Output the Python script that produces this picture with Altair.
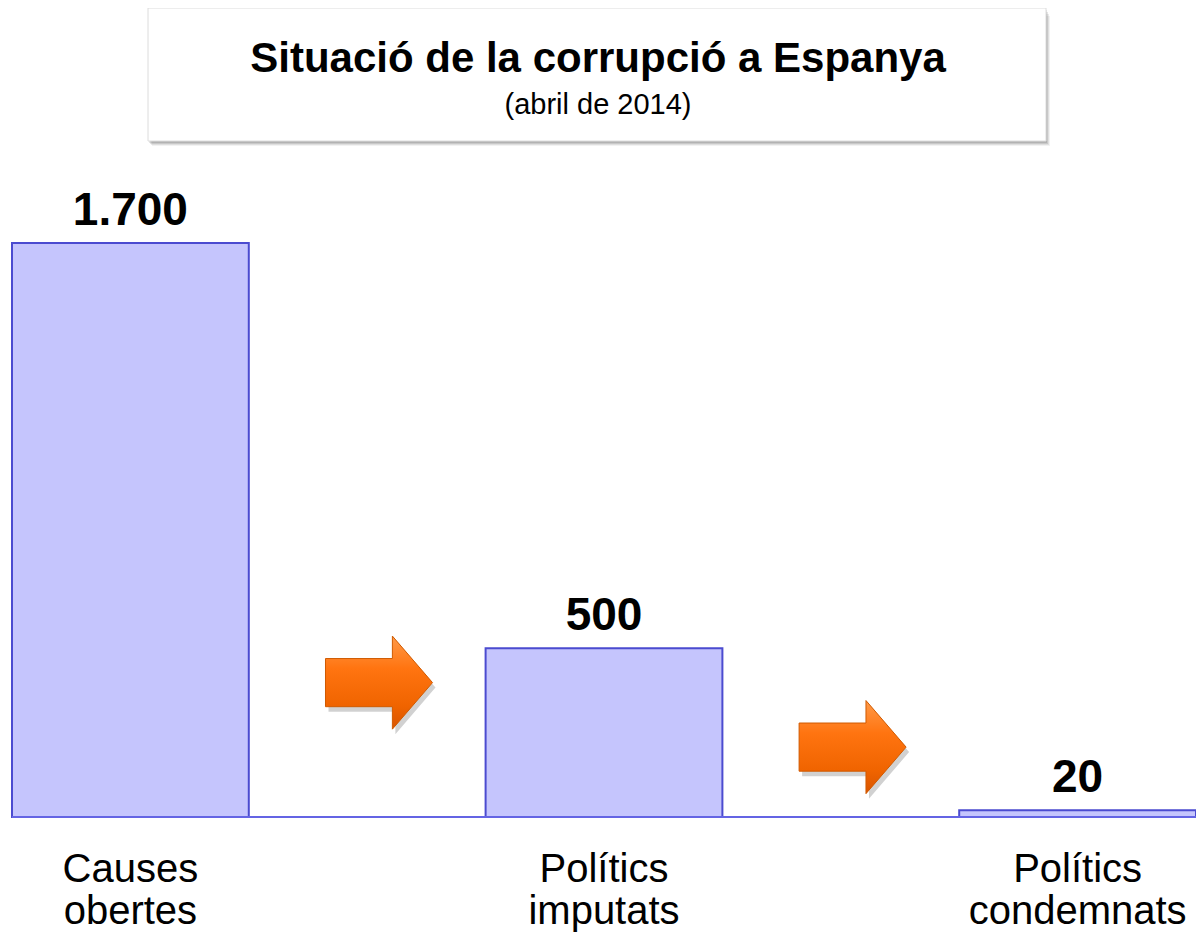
import altair as alt
import pandas as pd

# ---- data ----
categories = ["Causes obertes", "Polítics imputats", "Polítics condemnats"]
category_labels = ["Causes\nobertes", "Polítics\nimputats", "Polítics\ncondemnats"]
values = [1700, 500, 20]
value_labels = ["1.700", "500", "20"]

arrow_before = ["Polítics imputats", "Polítics condemnats"]
arrow_levels = [398, 207]

title_text = "Situació de la corrupció a Espanya"
subtitle_text = "(abril de 2014)"

df = pd.DataFrame({"cat": categories, "label": category_labels,
                   "value": values, "vlabel": value_labels})
arrows = pd.DataFrame({"cat": arrow_before, "level": arrow_levels})

FONT = "Liberation Sans"
W, H = 1184, 925

xenc = alt.X("cat:N", sort=categories, axis=None,
             scale=alt.Scale(paddingInner=0.5, paddingOuter=0))
yscale = alt.Scale(domain=[0, 1700], range=[809, 235], zero=True, nice=False)

base = alt.Chart(df)

bars = base.mark_bar(fill="#c5c5fd", stroke="#4b4bd0", strokeWidth=2).encode(
    x=xenc, y=alt.Y("value:Q", scale=yscale, axis=None))

baseline = base.mark_rule(color="#6464e4", strokeWidth=2).encode(
    y=alt.datum(0, scale=yscale), x=alt.value(0), x2=alt.value(W))

vlabels = base.mark_text(font=FONT, fontSize=46, fontWeight="bold",
                         baseline="alphabetic", dy=-18, color="#000").encode(
    x=xenc, y=alt.Y("value:Q", scale=yscale), text="vlabel:N")

clabels = base.mark_text(font=FONT, fontSize=40, baseline="alphabetic",
                         lineBreak="\n", lineHeight=42, dy=65, color="#000").encode(
    x=xenc, y=alt.datum(0, scale=yscale), text="label:N")

arrow_path = "M-1,-0.45 L0.25,-0.45 L0.25,-0.87 L1,0 L0.25,0.87 L0.25,0.45 L-1,0.45 Z"
arrow_shadow = alt.Chart(arrows).mark_point(
    shape=arrow_path, size=11450, filled=True, fill="#000000", opacity=0.18,
    strokeWidth=0, xOffset=-222, yOffset=5).encode(
    x=xenc, y=alt.Y("level:Q", scale=yscale))
arrow_mark = alt.Chart(arrows).mark_point(
    shape=arrow_path, size=11450, filled=True, opacity=1,
    fill=alt.Gradient(gradient="linear", x1=0, y1=0, x2=0, y2=1,
                      stops=[alt.GradientStop(color="#ff9a48", offset=0),
                             alt.GradientStop(color="#ff7410", offset=0.35),
                             alt.GradientStop(color="#f06400", offset=0.75),
                             alt.GradientStop(color="#d85400", offset=1)]),
    stroke="#d05a00", strokeWidth=1, xOffset=-225).encode(
    x=xenc, y=alt.Y("level:Q", scale=yscale))

# title box (decoration)
one = alt.Chart(pd.DataFrame({"t": [title_text], "s": [subtitle_text]}))
shadows = []
for off, op in [(2, 0.10), (4, 0.10), (6, 0.08), (8, 0.05)]:
    shadows.append(one.mark_rect(fill="#000000", opacity=op).encode(
        x=alt.value(136 + off // 2), x2=alt.value(1034 + off // 2),
        y=alt.value(0 + off), y2=alt.value(133 + off // 2 + 1)))
box = one.mark_rect(fill="#ffffff", stroke="#dcdcdc", strokeWidth=1).encode(
    x=alt.value(136), x2=alt.value(1034), y=alt.value(0), y2=alt.value(133))
title = one.mark_text(font=FONT, fontSize=42, fontWeight="bold",
                      baseline="alphabetic", color="#000").encode(
    x=alt.value(586), y=alt.value(64), text="t:N")
subtitle = one.mark_text(font=FONT, fontSize=29, baseline="alphabetic",
                         color="#000").encode(
    x=alt.value(586), y=alt.value(106), text="s:N")

chart = alt.layer(*shadows, box, title, subtitle, bars, baseline,
                  arrow_shadow, arrow_mark, vlabels, clabels).properties(
    width=W, height=H,
    autosize=alt.AutoSizeParams(type="none"),
    padding={"left": 4, "top": 0, "right": 0, "bottom": 0},
).configure_view(stroke=None)

chart.save("out.html", embed_options={"renderer": "svg", "actions": False})
